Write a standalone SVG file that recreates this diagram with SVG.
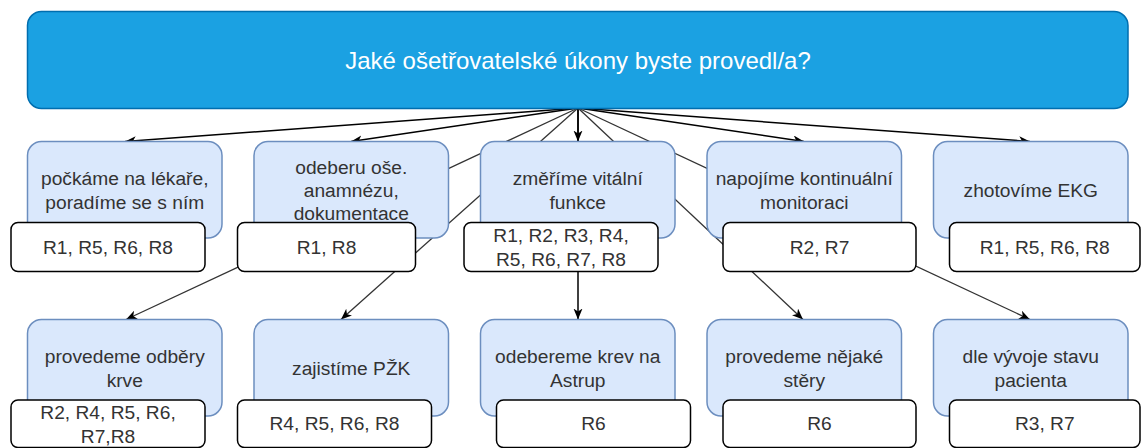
<svg xmlns="http://www.w3.org/2000/svg" width="1141" height="448" viewBox="0 0 1141 448">
<style>
.title{fill:#1ba1e2;stroke:#006eaf;stroke-width:1.5}
.blue{fill:#dae8fc;stroke:#6c8ebf;stroke-width:1.5}
.rbox{fill:#ffffff;stroke:#000000;stroke-width:1.5}
.tt{font-family:"Liberation Sans",Arial,Helvetica,sans-serif;font-size:24px;fill:#ffffff;text-anchor:middle}
.bt{font-family:"Liberation Sans",Arial,Helvetica,sans-serif;font-size:19.2px;fill:#333333;text-anchor:middle}
.rt{font-family:"Liberation Sans",Arial,Helvetica,sans-serif;font-size:19.2px;fill:#333333;text-anchor:middle}
.e1{fill:none;stroke:#000000;stroke-width:1.5}
.e2{fill:none;stroke:#333333;stroke-width:1.3}
</style>
<defs>
<marker id="arr" markerUnits="userSpaceOnUse" markerWidth="12" markerHeight="10" refX="11" refY="4.5" orient="auto">
<path d="M0,0 L11,4.5 L0,9 L3,4.5 z" fill="#000000"/>
</marker>
</defs>
<g id="connectors">
<path class="e1" d="M578,108 L125,141.5" marker-end="url(#arr)"/>
<path class="e1" d="M578,108 L351,141.5" marker-end="url(#arr)"/>
<path class="e1" d="M578,108 L578,141.5" marker-end="url(#arr)"/>
<path class="e1" d="M578,108 L804,141.5" marker-end="url(#arr)"/>
<path class="e1" d="M578,108 L1030,141.5" marker-end="url(#arr)"/>
<path class="e2" d="M578,108 L126,319.5" marker-end="url(#arr)"/>
<path class="e2" d="M578,108 L341,319.5" marker-end="url(#arr)"/>
<path class="e1" d="M578,108 L578,319.5" marker-end="url(#arr)"/>
<path class="e2" d="M578,108 L803,319.5" marker-end="url(#arr)"/>
<path class="e2" d="M578,108 L1030,319.5" marker-end="url(#arr)"/>
</g>
<g id="n0">
<rect class="title" x="27.5" y="11.5" width="1100.5" height="97" rx="14" ry="14"/>
<text class="tt" x="578" y="69">Jaké ošetřovatelské úkony byste provedl/a?</text>
</g>
<g id="n1">
<rect class="blue" x="27.5" y="141.5" width="194.5" height="96.5" rx="14" ry="14"/>
<text class="bt" x="124.75" y="185">počkáme na lékaře,</text>
<text class="bt" x="124.75" y="208.5">poradíme se s ním</text>
</g>
<g id="n2">
<rect class="blue" x="254" y="141.5" width="194.5" height="96.5" rx="14" ry="14"/>
<text class="bt" x="351.25" y="173.5">odeberu oše.</text>
<text class="bt" x="351.25" y="196.75">anamnézu,</text>
<text class="bt" x="351.25" y="220">dokumentace</text>
</g>
<g id="n3">
<rect class="blue" x="480.5" y="141.5" width="194.5" height="96.5" rx="14" ry="14"/>
<text class="bt" x="577.75" y="185">změříme vitální</text>
<text class="bt" x="577.75" y="208.5">funkce</text>
</g>
<g id="n4">
<rect class="blue" x="707" y="141.5" width="194.5" height="96.5" rx="14" ry="14"/>
<text class="bt" x="804.25" y="185">napojíme kontinuální</text>
<text class="bt" x="804.25" y="208.5">monitoraci</text>
</g>
<g id="n5">
<rect class="blue" x="933.5" y="141.5" width="194.5" height="96.5" rx="14" ry="14"/>
<text class="bt" x="1030.75" y="196.75">zhotovíme EKG</text>
</g>
<g id="r1">
<rect class="rbox" x="11" y="222.5" width="194" height="49" rx="7" ry="7"/>
<text class="rt" x="108" y="254">R1, R5, R6, R8</text>
</g>
<g id="r2">
<rect class="rbox" x="237.5" y="222.5" width="178" height="49" rx="7" ry="7"/>
<text class="rt" x="326.5" y="254">R1, R8</text>
</g>
<g id="r3">
<rect class="rbox" x="464" y="222.5" width="194" height="49" rx="7" ry="7"/>
<text class="rt" x="561" y="242.4">R1, R2, R3, R4,</text>
<text class="rt" x="561" y="265.7">R5, R6, R7, R8</text>
</g>
<g id="r4">
<rect class="rbox" x="723" y="222.5" width="193" height="49" rx="7" ry="7"/>
<text class="rt" x="819.5" y="254">R2, R7</text>
</g>
<g id="r5">
<rect class="rbox" x="949.5" y="222.5" width="190.5" height="49" rx="7" ry="7"/>
<text class="rt" x="1044.75" y="254">R1, R5, R6, R8</text>
</g>
<g id="n6">
<rect class="blue" x="27.5" y="319.5" width="194.5" height="96.5" rx="14" ry="14"/>
<text class="bt" x="124.75" y="363.3">provedeme odběry</text>
<text class="bt" x="124.75" y="386.6">krve</text>
</g>
<g id="n7">
<rect class="blue" x="254" y="319.5" width="194.5" height="96.5" rx="14" ry="14"/>
<text class="bt" x="351.25" y="375">zajistíme PŽK</text>
</g>
<g id="n8">
<rect class="blue" x="480.5" y="319.5" width="194.5" height="96.5" rx="14" ry="14"/>
<text class="bt" x="577.75" y="363.3">odebereme krev na</text>
<text class="bt" x="577.75" y="386.6">Astrup</text>
</g>
<g id="n9">
<rect class="blue" x="707" y="319.5" width="194.5" height="96.5" rx="14" ry="14"/>
<text class="bt" x="804.25" y="363.3">provedeme nějaké</text>
<text class="bt" x="804.25" y="386.6">stěry</text>
</g>
<g id="n10">
<rect class="blue" x="933.5" y="319.5" width="194.5" height="96.5" rx="14" ry="14"/>
<text class="bt" x="1030.75" y="363.3">dle vývoje stavu</text>
<text class="bt" x="1030.75" y="386.6">pacienta</text>
</g>
<g id="r6">
<rect class="rbox" x="11" y="400" width="194" height="47.5" rx="7" ry="7"/>
<text class="rt" x="108" y="419">R2, R4, R5, R6,</text>
<text class="rt" x="108" y="443">R7,R8</text>
</g>
<g id="r7">
<rect class="rbox" x="237.5" y="400" width="194" height="47.5" rx="7" ry="7"/>
<text class="rt" x="334.5" y="430">R4, R5, R6, R8</text>
</g>
<g id="r8">
<rect class="rbox" x="496.5" y="400" width="194" height="47.5" rx="7" ry="7"/>
<text class="rt" x="593.5" y="430">R6</text>
</g>
<g id="r9">
<rect class="rbox" x="723" y="400" width="193" height="47.5" rx="7" ry="7"/>
<text class="rt" x="819.5" y="430">R6</text>
</g>
<g id="r10">
<rect class="rbox" x="949.5" y="400" width="190.5" height="47.5" rx="7" ry="7"/>
<text class="rt" x="1044.75" y="430">R3, R7</text>
</g>
</svg>
